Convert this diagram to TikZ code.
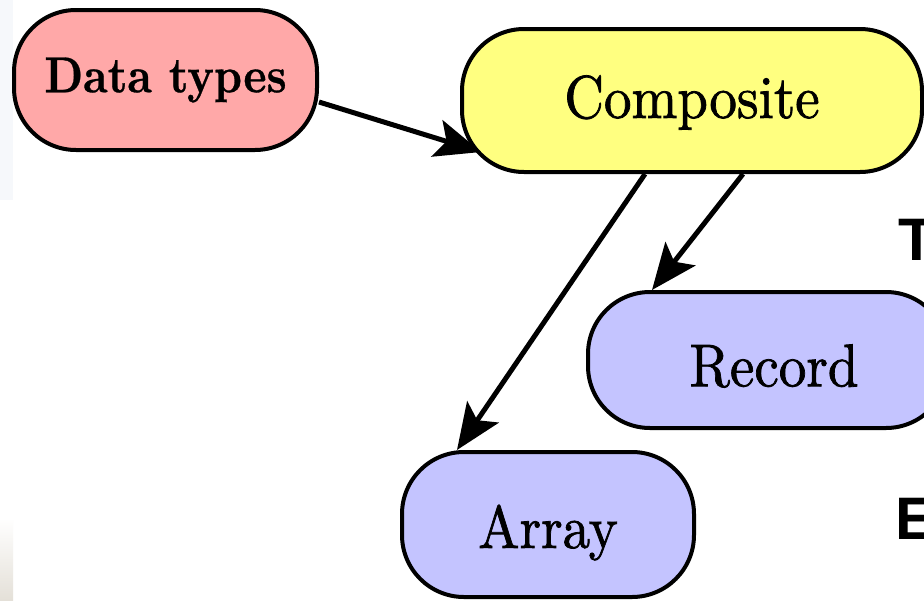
\documentclass[tikz,border=0pt]{standalone}
\usepackage{fontspec}
\newfontfamily\labelsans{Liberation Sans}
\newfontfamily\nodeserif[FakeBold=1.3]{lmroman10-regular.otf}
\newfontfamily\nodeserifbold[FakeBold=0.6]{lmroman10-bold.otf}
\usetikzlibrary{arrows.meta}
\definecolor{pinkfill}{HTML}{FFA8A8}
\definecolor{yellowfill}{HTML}{FFFF80}
\definecolor{bluefill}{HTML}{C4C4FF}
\definecolor{stripblue}{HTML}{F6F8FB}
\definecolor{stripbeige}{HTML}{E4E0D8}
\tikzset{
  pill/.style={draw=black, line width=4pt, rounded corners=62pt, inner sep=0pt},
  conn/.style={draw=black, line width=5pt,
    -{Stealth[length=46pt, width=38pt, inset=10pt]}},
  sidetext/.style={anchor=base west, inner sep=0pt,
    font=\labelsans\bfseries\fontsize{60}{60}\selectfont}
}
\newcommand{\pilltext}[1]{\nodeserif\fontsize{55}{55}\selectfont\scalebox{1}[1.1]{#1}}
\begin{document}
\begin{tikzpicture}[x=1pt, y=-1pt]
\useasboundingbox (0,0) rectangle (924,600);
\clip (0,0) rectangle (924,600);
\fill[white] (0,0) rectangle (924,600);
% faint strip along the left edge
\fill[stripblue] (0,0) rectangle (13,200);
\fill[white!97!stripblue] (0,200) rectangle (13,520);
\shade[top color=white!97!stripbeige, bottom color=stripbeige] (0,520) rectangle (13,600);

% nodes
\node[pill, fill=pinkfill, minimum width=303pt, minimum height=140pt] (dt) at (165.5,80)
  {\nodeserifbold\fontsize{44}{44}\selectfont\scalebox{1}[1.15]{Data types}};
\node[pill, fill=yellowfill, minimum width=460pt, minimum height=143pt] (comp) at (692,100.5)
  {\raisebox{-2pt}[\height][\depth]{\pilltext{Composite}}};
\node[pill, fill=bluefill, minimum width=360pt, minimum height=136pt] (rec) at (768,360)
  {\hspace*{12pt}\raisebox{-6pt}[\height][\depth]{\pilltext{Record}}};
\node[pill, fill=bluefill, minimum width=292pt, minimum height=145pt] (arr) at (548,524.5)
  {\raisebox{-8pt}[\height][\depth]{\pilltext{Array}}};

% connectors
\draw[conn] ([yshift=-22pt]dt.east) -- ([xshift=21pt, yshift=22pt]comp.south west);
\draw[conn] ([xshift=-47pt]comp.south) -- ([xshift=-91pt]arr.north);
\draw[conn] ([xshift=51pt]comp.south) -- ([xshift=-116pt]rec.north);

% letters at the right margin
\node[sidetext] (tletter) at (898,260) {T};
\node[sidetext] (eletter) at (895,539) {E};
\end{tikzpicture}
\end{document}
